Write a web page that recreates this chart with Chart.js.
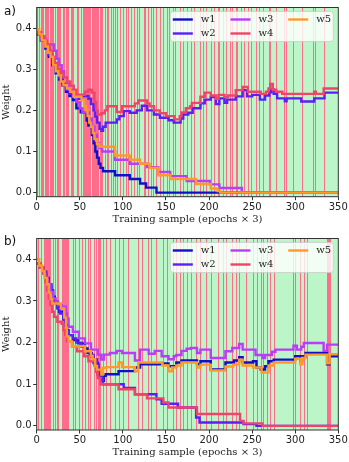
<!DOCTYPE html>
<html>
<head>
<meta charset="utf-8">
<script src="https://cdn.jsdelivr.net/npm/chart.js@4.4.1/dist/chart.umd.min.js"></script>
<style>
  body { margin: 0; background: #fff; }
  .panel { position: absolute; left: 0; width: 349px; height: 231px; }
  .tag { position: absolute; left: 4px; font: 12px "DejaVu Sans"; line-height: 14px; color: #111; }
</style>
</head>
<body>
<div class="panel" style="top:0"><canvas id="chartA" width="349" height="231"></canvas><div class="tag" style="top:4px">a)</div></div>
<div class="panel" style="top:231px"><canvas id="chartB" width="349" height="231"></canvas><div class="tag" style="top:3px">b)</div></div>
<script>
const names = ['w1', 'w2', 'w3', 'w4', 'w5'];
const colors = ['#1010c8', '#5a1ef8', '#b83cf8', '#ee4468', '#ff9a28'];
const xTicks = [0, 50, 100, 150, 200, 250, 300, 350];
const yTicks = [0, 0.1, 0.2, 0.3, 0.4];

// panel a: [sample, weight] at each change
const aW1 = [[0,0.385],[5,0.37],[10,0.35],[14,0.33],[18,0.31],[22,0.29],[26,0.275],[30,0.26],[34,0.245],[38,0.235],[42,0.225],[46,0.205],[51,0.195],[58,0.175],[60,0.163],[64,0.14],[66,0.12],[68,0.1],[70,0.085],[72,0.07],[74,0.06],[77,0.052],[91,0.042],[108,0.033],[120,0.022],[127,0.012],[139,0],[350,0]];
const aW2 = [[0,0.385],[5,0.37],[10,0.355],[14,0.335],[18,0.315],[22,0.295],[26,0.28],[30,0.265],[34,0.25],[38,0.24],[42,0.232],[48,0.228],[52,0.235],[60,0.228],[63,0.215],[66,0.2],[68,0.185],[70,0.17],[73,0.155],[75,0.15],[77,0.16],[80,0.17],[93,0.178],[96,0.186],[101,0.198],[108,0.194],[116,0.2],[122,0.211],[128,0.2],[136,0.19],[143,0.182],[153,0.176],[159,0.17],[167,0.18],[170,0.19],[176,0.194],[181,0.205],[190,0.217],[195,0.226],[202,0.232],[208,0.215],[212,0.229],[218,0.218],[221,0.226],[231,0.234],[239,0.249],[244,0.234],[250,0.2375],[259,0.226],[265,0.236],[270,0.244],[272,0.251],[275,0.24],[279,0.229],[288,0.222],[290,0.229],[307,0.2215],[322,0.229],[334,0.243],[350,0.243]];
const aW3 = [[0,0.389],[5,0.375],[10,0.36],[20,0.345],[23,0.325],[26,0.31],[29,0.295],[32,0.28],[35,0.265],[38,0.25],[42,0.235],[46,0.22],[50,0.205],[53,0.195],[61,0.18],[64,0.16],[67,0.14],[70,0.12],[73,0.108],[76,0.1],[91,0.08],[108,0.07],[128,0.062],[141,0.05],[155,0.04],[174,0.028],[201,0.02],[212,0.011],[238,0],[350,0]];
const aW4 = [[0,0.39],[5,0.38],[9,0.37],[12,0.36],[15,0.345],[18,0.33],[21,0.315],[24,0.3],[27,0.29],[31,0.28],[35,0.27],[39,0.26],[43,0.25],[46,0.238],[56,0.245],[60,0.25],[64,0.243],[67,0.22],[69,0.2],[71,0.19],[75,0.193],[79,0.2],[82,0.21],[93,0.196],[99,0.21],[114,0.217],[118,0.224],[128,0.217],[131,0.21],[136,0.2],[143,0.193],[150,0.186],[160,0.178],[166,0.186],[168,0.195],[173,0.205],[178,0.21],[180,0.218],[190,0.233],[195,0.243],[202,0.236],[208,0.228],[211,0.2375],[218,0.232],[222,0.236],[231,0.249],[239,0.257],[245,0.245],[260,0.24],[266,0.245],[269,0.253],[271,0.264],[274,0.25],[278,0.245],[285,0.24],[322,0.245],[324,0.24],[333,0.253],[350,0.253]];
const aW5 = [[0,0.397],[3,0.385],[6,0.37],[10,0.355],[13,0.34],[16,0.33],[19,0.31],[22,0.295],[25,0.285],[28,0.27],[31,0.261],[35,0.253],[39,0.245],[43,0.233],[52,0.225],[55,0.21],[57,0.2],[59,0.186],[61,0.17],[63,0.16],[65,0.145],[67,0.13],[70,0.118],[73,0.1115],[91,0.09],[108,0.08],[120,0.07],[131,0.06],[141,0.042],[155,0.033],[185,0.021],[202,0.01],[210,0.004],[213,0],[350,0]];

// panel b
const bW1 = [[0,0.39],[4,0.38],[8,0.37],[11,0.355],[14,0.34],[17,0.325],[19,0.31],[21,0.298],[24,0.285],[26,0.274],[31,0.258],[33,0.242],[35,0.23],[37,0.218],[42,0.206],[48,0.198],[56,0.186],[59,0.175],[64,0.167],[66,0.151],[71,0.124],[75,0.108],[78,0.12],[80,0.124],[95,0.1315],[114,0.14],[120,0.148],[143,0.15],[153,0.143],[162,0.152],[168,0.157],[186,0.148],[190,0.155],[202,0.1355],[219,0.152],[229,0.157],[235,0.165],[239,0.152],[251,0.155],[255,0.14],[260,0.1355],[265,0.143],[269,0.155],[275,0.159],[300,0.167],[306,0.155],[308,0.167],[312,0.175],[337,0.148],[340,0.167],[350,0.167]];
const bW2 = [[0,0.39],[4,0.38],[8,0.365],[11,0.35],[14,0.335],[17,0.32],[19,0.305],[21,0.295],[24,0.282],[27,0.27],[31,0.255],[33,0.24],[35,0.228],[37,0.218],[42,0.21],[46,0.2],[52,0.19],[56,0.18],[62,0.17],[66,0.16],[70,0.147],[72,0.13],[74,0.115],[77,0.1],[101,0.091],[114,0.076],[139,0.064],[145,0.053],[164,0.044],[185,0.02],[189,0.008],[240,0.004],[255,0],[350,0]];
const bW3 = [[0,0.39],[4,0.38],[7,0.37],[10,0.355],[13,0.34],[16,0.322],[19,0.306],[22,0.298],[25,0.29],[29,0.286],[34,0.27],[35,0.258],[37,0.238],[42,0.226],[49,0.21],[56,0.198],[63,0.183],[71,0.171],[75,0.159],[78,0.171],[85,0.175],[93,0.18],[99,0.175],[114,0.157],[120,0.183],[130,0.173],[137,0.18],[145,0.167],[153,0.16],[159,0.167],[162,0.17],[168,0.18],[174,0.185],[179,0.187],[186,0.175],[190,0.183],[202,0.163],[219,0.179],[227,0.187],[235,0.1965],[239,0.183],[254,0.17],[262,0.163],[265,0.17],[273,0.178],[277,0.183],[298,0.1925],[302,0.183],[307,0.19],[310,0.199],[333,0.18],[337,0.195],[350,0.195]];
const bW4 = [[0,0.39],[3,0.381],[8,0.365],[10,0.345],[12,0.325],[14,0.306],[16,0.29],[18,0.274],[20,0.262],[24,0.25],[29,0.245],[31,0.23],[33,0.218],[35,0.203],[41,0.191],[47,0.179],[55,0.167],[60,0.155],[67,0.145],[69,0.13],[71,0.115],[74,0.1],[95,0.088],[114,0.076],[128,0.066],[147,0.056],[153,0.044],[186,0.0285],[236,0.012],[240,0.006],[262,0],[350,0]];
const bW5 = [[0,0.4],[3,0.385],[6,0.372],[9,0.355],[12,0.34],[14,0.32],[16,0.305],[18,0.294],[28,0.282],[32,0.26],[34,0.235],[35,0.215],[37,0.203],[41,0.191],[56,0.179],[63,0.168],[65,0.16],[68,0.143],[70,0.135],[75,0.123],[77,0.1395],[81,0.141],[95,0.152],[99,0.141],[114,0.131],[118,0.152],[146,0.145],[153,0.131],[157,0.14],[162,0.145],[168,0.152],[186,0.14],[190,0.147],[202,0.133],[219,0.1425],[228,0.147],[235,0.159],[239,0.145],[251,0.14],[261,0.128],[269,0.145],[275,0.152],[300,0.161],[306,0.148],[308,0.163],[312,0.171],[337,0.15],[340,0.172],[350,0.172]];

// red (off) stretches of training samples, [from, to]; the rest is green
const redA = [[0,1.5],[2.5,4],[5,9],[10,14.5],[16,19.5],[21,22.5],[24,28.5],[30,32.5],[34,38],[39.5,43],[47,49.5],[51,52.5],[54,63],[64,70],[70.5,72],[73,74],[75,77],[79,80],[82,84],[86,87],[89,90],
  [91,92],[93,94],[97,98],[100,101],[104,105],[106,107],[110,111],[113,114],[116,117],[119,120],[124,125],[126,127],[129,130],[133,134],[135,136],[139,140],[143,144],[147,148],[151,152],[154,155],[158,159],[160,161],[166,167],[170,171],[174,175],
  [179,180],[183,184],[189,190],[193,194],[196,197],[202,203],[206,207],[210,211],[212,213],[216,217],[220,221],[224,225],[227,228],[231,232],[233,234],[237,238],[241,242],[245,246],[249,250],[255,256],[258,259],[263,264],
  [269,270],[271,272],[278,279],[287,288],[289,290],[298,299],[308,309],[321,322],[323,324],[333,334]];
const redB = [[2,3],[5,6],[8,17],[19,20],[21,22],[23,24],[25,26],[29,37],[42,43],[45,46],[49,50],[52,53],[56,57],[59,60],[62,63],[66,67],[69,70],[71,73],[74,75],[77,78],[80,81],
  [85,86],[91,92],[95,97],[100,101],[106,107],[118,119],[122,123],[129,130],[133,134],[139,140],[147,148],[151,152],[158,159],[162,163],[166,167],[170,171],[174,175],
  [179,180],[185,186],[189,191],[197,198],[202,203],[210,211],[216,217],[220,221],[227,228],[231,232],[235,236],[243,244],[251,252],[256,257],[260,261],
  [263,264],[267,268],[271,272],[275,276],[298,299],[300,301],[306,307],[310,311],[314,315],[337,342]];

function bands(reds) {
  return {
    id: 'bands',
    beforeDatasetsDraw(chart) {
      const { ctx, chartArea: ca, scales: { x } } = chart;
      ctx.save();
      ctx.fillStyle = 'rgb(188,245,200)';
      ctx.fillRect(ca.left, ca.top, ca.width, ca.height);
      ctx.fillStyle = 'rgb(255,108,140)';
      reds.forEach(([a, b]) => {
        // snap to whole pixels so one-sample stripes stay visible
        const x1 = Math.round(x.getPixelForValue(a));
        const x2 = Math.max(x1 + 1, Math.round(x.getPixelForValue(b)));
        ctx.fillRect(x1, ca.top, x2 - x1, ca.height);
      });
      ctx.restore();
    }
  };
}

const frameAndLegend = {
  id: 'frameAndLegend',
  afterDatasetsDraw(chart) {
    const { ctx, chartArea: ca } = chart;
    ctx.save();
    ctx.strokeStyle = '#333';
    ctx.lineWidth = 1;
    ctx.strokeRect(ca.left, ca.top, ca.width, ca.height);

    const left = ca.right - 168, top = ca.top + 4;
    ctx.fillStyle = 'rgba(255,255,255,0.8)';
    ctx.strokeStyle = 'rgba(204,204,204,0.8)';
    ctx.beginPath();
    ctx.roundRect(left, top, 163, 30, 3);
    ctx.fill();
    ctx.stroke();
    ctx.font = '10px "DejaVu Serif"';
    ctx.textBaseline = 'middle';
    names.forEach((n, i) => {
      const col = Math.floor(i / 2), row = i % 2;
      const lx = left + 2.5 + col * 57.7, ly = top + 8 + row * 14;
      ctx.strokeStyle = colors[i];
      ctx.lineWidth = 2.4;
      ctx.beginPath();
      ctx.moveTo(lx, ly);
      ctx.lineTo(lx + 20, ly);
      ctx.stroke();
      ctx.fillStyle = '#222';
      ctx.fillText(n, lx + 28, ly);
    });
    ctx.restore();
  }
};

function makeChart(id, series, reds, area) {
  new Chart(document.getElementById(id), {
    type: 'line',
    data: {
      datasets: series.map((s, i) => ({
        label: names[i],
        data: s.map(p => ({ x: p[0], y: p[1] })),
        borderColor: colors[i],
        borderWidth: 2.4,
        pointRadius: 0,
        stepped: true,
        fill: false,
        order: series.length - 1 - i
      }))
    },
    options: {
      responsive: false,
      animation: false,
      events: [],
      layout: { padding: { left: 0, right: 10.7, top: area.top, bottom: 0 } },
      plugins: { legend: { display: false }, tooltip: { enabled: false } },
      scales: {
        x: {
          type: 'linear', min: 0, max: 350,
          afterBuildTicks: s => { s.ticks = xTicks.map(v => ({ value: v })); },
          afterFit: s => { s.height = 231 - area.bottom; },
          grid: { drawOnChartArea: false, tickLength: 3.5, tickColor: '#333' },
          border: { display: false },
          ticks: { color: '#222', font: { family: 'DejaVu Sans', size: 10 }, padding: 1, maxRotation: 0 },
          title: { display: true, text: 'Training sample (epochs × 3)', color: '#222',
                   font: { family: 'DejaVu Serif', size: 10 }, padding: { top: 0, bottom: area.titlePad } }
        },
        y: {
          type: 'linear', min: -0.01, max: 0.45,
          afterBuildTicks: s => { s.ticks = yTicks.map(v => ({ value: v })); },
          afterFit: s => { s.width = 36.7; },
          grid: { drawOnChartArea: false, tickLength: 3.5, tickColor: '#333' },
          border: { display: false },
          ticks: { color: '#222', font: { family: 'DejaVu Sans', size: 10 }, padding: 1.5,
                   callback: v => v.toFixed(1) },
          title: { display: true, text: 'Weight', color: '#222',
                   font: { family: 'DejaVu Serif', size: 10 }, padding: { top: 0, bottom: 0 } }
        }
      }
    },
    plugins: [bands(reds), frameAndLegend]
  });
}

makeChart('chartA', [aW1, aW2, aW3, aW4, aW5], redA, { top: 4, bottom: 196.7, titlePad: 6 });
makeChart('chartB', [bW1, bW2, bW3, bW4, bW5], redB, { top: 5, bottom: 199, titlePad: 3.3 });
</script>
</body>
</html>
